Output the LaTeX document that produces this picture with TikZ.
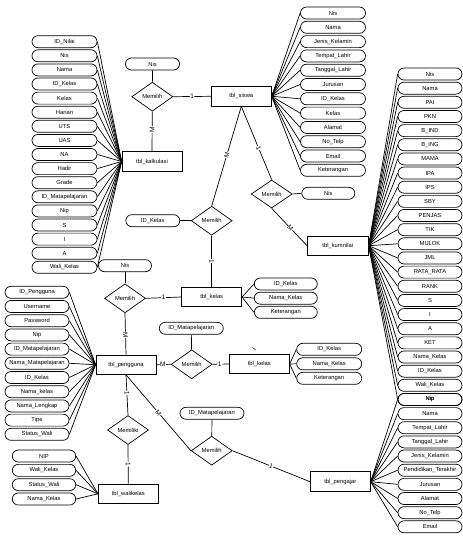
\documentclass[tikz,border=0pt]{standalone}
\usepackage{fontspec}
\setmainfont{Liberation Sans}
\usepackage{tikz}
\usetikzlibrary{shapes.geometric, positioning}

\begin{document}
\begin{tikzpicture}[x=1pt, y=-1pt, line width=0.7pt,
  tabel/.style={draw, rectangle, minimum width=60pt, minimum height=19.5pt, inner sep=0pt, font=\fontsize{5.8}{7}\selectfont},
  atribut/.style={draw, rectangle, rounded corners=6pt, minimum width=64pt, minimum height=12pt, inner sep=0pt, font=\fontsize{5.8}{7}\selectfont},
  relasi/.style={draw, diamond, minimum width=41pt, minimum height=29pt, inner sep=0pt, font=\fontsize{5.8}{7}\selectfont},
  kard/.style={font=\fontsize{6.5}{7}\selectfont, fill=white, inner sep=0.4pt, sloped}]
  \useasboundingbox (0,0) rectangle (463,544);
  \clip (0,0) rectangle (463,544);
  % Tables
  \node[tabel] (kalkulasi) at (152,161.5) {tbl\_kalkulasi};
  \node[tabel] (siswa) at (241.3,96.3) {tbl\_siswa};
  \node[tabel, minimum width=61pt] (kumnilai) at (337.8,245.7) {tbl\_kumnilai};
  \node[tabel] (kelas) at (211.7,297) {tbl\_kelas};
  \node[tabel] (pengguna) at (126,364.7) {tbl\_pengguna};
  \node[tabel] (kelasb) at (259.3,364) {tbl\_kelas};
  \node[tabel, minimum height=20pt] (pengajar) at (340.3,481.7) {tbl\_pengajar};
  \node[tabel] (walikelas) at (128.3,493.8) {tbl\_walikelas};
  % Relations
  \node[relasi] (memA) at (152.3,96.7) {Memilih};
  \node[relasi, minimum height=28pt] (memB) at (271.7,194) {Memilih};
  \node[relasi] (memC) at (211.7,220.7) {Memilih};
  \node[relasi] (memD) at (125,298.3) {Memilih};
  \node[relasi] (memE) at (191.7,364.3) {Memilih};
  \node[relasi] (memF) at (211.7,450.7) {Memilih};
  \node[relasi] (memiliki) at (128,430) {Memiliki};
  % Single attributes
  \node[atribut, minimum width=54pt] (nisA) at (152.5,64) {Nis};
  \node[atribut, minimum width=53pt] (nisB) at (328.3,193.3) {Nis};
  \node[atribut, minimum width=54pt] (idkls) at (152.8,220.7) {ID\_Kelas};
  \node[atribut, minimum width=53pt] (nisC) at (125,265.7) {Nis};
  \node[atribut] (idmpA) at (191.3,328.3) {ID\_Matapelajaran};
  \node[atribut] (idmpB) at (212,413.3) {ID\_Matapelajaran};
  % Attributes of tbl_kalkulasi
  \foreach \t [count=\i] in {ID\_Nilai, Nis, Nama, ID\_Kelas, Kelas, Harian, UTS, UAS, NA, Hadir,
      Grade, ID\_Matapelajaran, Nip, S, I, A, Wali\_Kelas} {
    \node[atribut, minimum width=65pt] (kal\i) at (64.5,{27.6+14.1*\i}) {\t};
    \draw (kal\i.east) -- (kalkulasi.west);
  }
  % Attributes of tbl_siswa
  \foreach \t [count=\i] in {Nis, Nama, Jenis\_Kelamin, Tempat\_Lahir, Tanggal\_Lahir, Jurusan,
      ID\_Kelas, Kelas, Alamat, No\_Telp, Email, Keterangan} {
    \node[atribut, minimum width=65pt] (sis\i) at (333,{-1.3+14.3*\i}) {\t};
    \draw (siswa.east) -- (sis\i.west);
  }
  % Attributes of tbl_kumnilai
  \foreach \t [count=\i] in {Nis, Nama, PAI, PKN, B\_IND, B\_ING, MAMA, IPA, IPS, SBY, PENJAS,
      TIK, MULOK, JML, RATA\_RATA, RANK, S, I, A, KET, Nama\_Kelas, ID\_Kelas, Wali\_Kelas, Nip} {
    \node[atribut] (kum\i) at (430,{59.85+14.15*\i}) {\t};
    \draw (kumnilai.east) -- (kum\i.west);
  }
  % Attributes of tbl_pengajar
  \foreach \t [count=\i] in {Nip, Nama, Tempat\_Lahir, Tanggal\_Lahir, Jenis\_Kelamin,
      Pendidikan\_Terakhir, Jurusan, Alamat, No\_Telp, Email} {
    \node[atribut] (ajr\i) at (430,{385.3+14.15*\i}) {\t};
    \draw (pengajar.east) -- (ajr\i.west);
  }
  % Attributes of tbl_pengguna
  \foreach \t [count=\i] in {ID\_Pengguna, Username, Password, Nip, ID\_Matapelajaran,
      Nama\_Matapelajaran, ID\_Kelas, Nama\_kelas, Nama\_Lengkap, Tipe, Status\_Wali} {
    \node[atribut] (pgn\i) at (37,{278.1+14.2*\i}) {\t};
    \draw (pgn\i.east) -- (pengguna.west);
  }
  % Attributes of tbl_walikelas
  \foreach \t [count=\i] in {NIP, Wali\_Kelas, Status\_Wali, Nama\_Kelas} {
    \node[atribut, minimum width=63.4pt] (wk\i) at (44,{441.7+14.33*\i}) {\t};
    \draw (wk\i.east) -- (walikelas.west);
  }
  % Attributes of both tbl_kelas
  \foreach \t [count=\i] in {ID\_Kelas, Nama\_Kelas, Keterangan} {
    \node[atribut, minimum width=63pt] (kls\i) at (285.8,{269.85+14.15*\i}) {\t};
    \draw (kelas.east) -- (kls\i.west);
    \node[atribut, minimum width=65pt] (klsb\i) at (329.2,{334.8+14.5*\i}) {\t};
    \draw (kelasb.east) -- (klsb\i.west);
  }
  % Relationship lines
  \draw (nisA) -- (memA);
  \draw (memA.east) -- node[kard] {1} (siswa.west);
  \draw (memA.south) -- node[kard, pos=.45] {M} (kalkulasi.north);
  \draw (siswa.south) -- node[kard, pos=.57] {1} (memB.north);
  \draw (memB.east) -- (nisB.west);
  \draw (memB.south) -- node[kard, pos=.53] {M} (kumnilai.west);
  \draw (siswa.south) -- node[kard, pos=.49] {M} (memC.north);
  \draw (idkls.east) -- (memC.west);
  \draw (memC.south) -- node[kard] {1} (kelas.north);
  \draw (nisC) -- (memD);
  \draw (memD.east) -- node[kard] {1} (kelas.west);
  \draw (memD.south) -- node[kard, pos=.52] {M} (pengguna.north);
  \draw (pengguna.east) -- node[kard, pos=.45] {M} (memE.west);
  \draw (idmpA) -- (memE);
  \draw (memE.east) -- node[kard, pos=.43] {1} (kelasb.west);
  \draw (pengguna.south) -- node[kard] {M} (memF.west);
  \draw (idmpB) -- (memF);
  \draw (memF.east) -- node[kard] {1} (pengajar.west);
  \draw (pengguna.south) -- node[kard, pos=.45] {1} (memiliki.north);
  \draw (memiliki.south) -- node[kard] {1} (walikelas.north);
  % stray mark
  \draw[line width=0.5pt] (252.5,347.3) -- (255.5,350);
\end{tikzpicture}
\end{document}
